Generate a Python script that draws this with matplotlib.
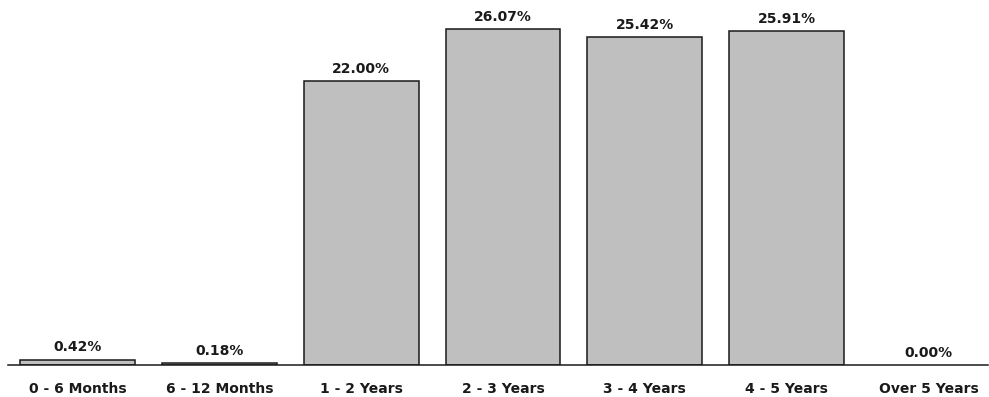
import matplotlib
matplotlib.use("Agg")
import matplotlib.pyplot as plt

# Maturity buckets and their share of the portfolio (%)
categories = ["0 - 6 Months", "6 - 12 Months", "1 - 2 Years", "2 - 3 Years",
              "3 - 4 Years", "4 - 5 Years", "Over 5 Years"]
shares = [0.42, 0.18, 22.00, 26.07, 25.42, 25.91, 0.00]

plt.rcParams["font.family"] = ["DejaVu Sans"]

fig = plt.figure(figsize=(9.89, 3.97), dpi=100)
ax = fig.add_axes([8 / 989, 32 / 397, 980 / 989, 365 / 397])

x = range(len(categories))
bars = ax.bar(x, shares, width=0.81, color="#bfbfbf", edgecolor="#1a1a1a",
              linewidth=[1.1 if v > 0 else 0 for v in shares])

for rect, val in zip(bars, shares):
    ax.text(rect.get_x() + rect.get_width() / 2, rect.get_height() + 0.4, f"{val:.2f}%",
            ha="center", va="bottom", fontsize=10, fontweight="bold", color="#1a1a1a")

ax.set_xlim(-0.49, 6.42)
ax.set_ylim(0, 28.3)
ax.set_xticks(list(x))
ax.set_xticklabels(categories, fontsize=10, fontweight="bold", color="#1a1a1a")
ax.tick_params(axis="x", length=0, pad=12.5)
ax.set_yticks([])
for side in ["top", "right", "left"]:
    ax.spines[side].set_visible(False)
ax.spines["bottom"].set_color("#1a1a1a")
ax.spines["bottom"].set_linewidth(1.1)

fig.savefig("out.png", dpi=100)
